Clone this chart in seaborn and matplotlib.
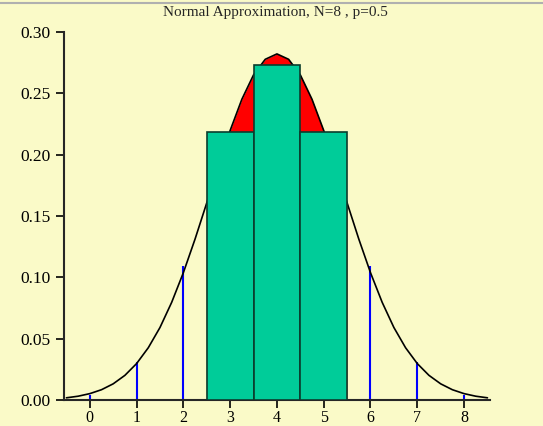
import matplotlib
matplotlib.use("Agg")
import matplotlib.pyplot as plt
import seaborn as sns
import pandas as pd

# binomial probabilities, N=8, p=0.5
k_values = [0, 1, 2, 3, 4, 5, 6, 7, 8]
binom_prob = [0.0039, 0.0313, 0.1094, 0.2188, 0.2734, 0.2188, 0.1094, 0.0313, 0.0039]

# bars shown for the approximated range
bar_k = [3, 4, 5]
bar_prob = [0.2188, 0.2734, 0.2188]

# normal curve heights, x from -0.5 to 8.5 in steps of 0.25
curve_x = [-0.5, -0.25, 0.0, 0.25, 0.5, 0.75, 1.0, 1.25, 1.5, 1.75, 2.0, 2.25,
           2.5, 2.75, 3.0, 3.25, 3.5, 3.75, 4.0, 4.25, 4.5, 4.75, 5.0, 5.25,
           5.5, 5.75, 6.0, 6.25, 6.5, 6.75, 7.0, 7.25, 7.5, 7.75, 8.0, 8.25, 8.5]
curve_y = [0.0018, 0.0031, 0.0052, 0.0084, 0.0132, 0.0201, 0.0297, 0.0426,
           0.0591, 0.0796, 0.1038, 0.1312, 0.1607, 0.1909, 0.2197, 0.2451,
           0.2650, 0.2777, 0.2821, 0.2777, 0.2650, 0.2451, 0.2197, 0.1909,
           0.1607, 0.1312, 0.1038, 0.0796, 0.0591, 0.0426, 0.0297, 0.0201,
           0.0132, 0.0084, 0.0052, 0.0031, 0.0018]

x_ticks = [0, 1, 2, 3, 4, 5, 6, 7, 8]
y_ticks = [0.00, 0.05, 0.10, 0.15, 0.20, 0.25, 0.30]

bg = "#FAFAC8"
sns.set_style("ticks", {"axes.facecolor": bg, "figure.facecolor": bg})
plt.rcParams["font.family"] = ["Liberation Serif", "DejaVu Serif"]

curve = pd.DataFrame({"x": curve_x, "y": curve_y})
shade = curve[(curve["x"] >= 2.5) & (curve["x"] <= 5.5)]

fig = plt.figure(figsize=(5.43, 4.26), dpi=100)
ax = fig.add_axes([0.118, 0.061, 0.784, 0.864])

# blue lines at each k, red area and curve, bars on top
ax.vlines(k_values, 0, binom_prob, color="#0000FF", linewidth=1.5, zorder=1)
ax.fill_between(shade["x"], 0, shade["y"], color="#FF0000", linewidth=0, zorder=2)
ax.vlines([2.5], 0, [shade["y"].iloc[0]], color="#FF0000", linewidth=1, zorder=2)
sns.lineplot(data=curve, x="x", y="y", color="black", linewidth=1.2, ax=ax,
             zorder=3)
ax.bar(bar_k, bar_prob, width=1.0, color="#00CC99", edgecolor="#0B3D2E",
       linewidth=1.2, zorder=4)

ax.set_xlim(-0.55, 8.55)
ax.set_ylim(0, 0.30)
ax.set_xticks(x_ticks)
ax.set_yticks(y_ticks)
ax.set_yticklabels(["%.2f" % v for v in y_ticks])
ax.tick_params(axis="y", labelsize=12.5, length=6, width=1.2, colors="black")
ax.tick_params(axis="x", labelsize=11.5, length=6, width=1.2, pad=1,
               colors="black")
ax.set_xlabel("")
ax.set_ylabel("")
for s in ["top", "right"]:
    ax.spines[s].set_visible(False)
for s in ["left", "bottom"]:
    ax.spines[s].set_linewidth(1.5)

fig.text(0.507, 0.970, "Normal Approximation, N=8 , p=0.5", ha="center",
         va="center", fontsize=11)
fig.add_artist(plt.Line2D([0, 1], [0.994, 0.994], color="#B0B0B0",
                          linewidth=1.5, transform=fig.transFigure))

fig.savefig("out.png", dpi=100, facecolor=bg)
